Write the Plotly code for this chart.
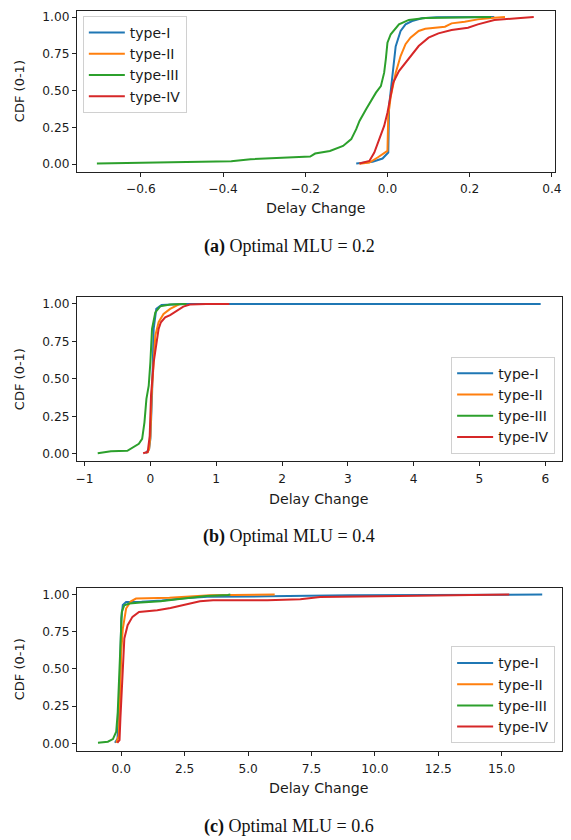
import plotly.graph_objects as go

# ---- CDF curves of delay change, one set per optimal-MLU setting ----
TYPES = ["type-I", "type-II", "type-III", "type-IV"]
COLORS = ["#1f77b4", "#ff7f0e", "#2ca02c", "#d62728"]

# Optimal MLU = 0.2
mlu02_t1_x = [-0.076, -0.036, -0.012, 0.0, 0.002, 0.004, 0.012, 0.02, 0.032, 0.044, 0.06, 0.084, 0.12, 0.26]
mlu02_t1_y = [0.004, 0.016, 0.038, 0.068, 0.079, 0.396, 0.62, 0.80, 0.905, 0.95, 0.973, 0.991, 0.998, 1.0]
mlu02_t2_x = [-0.068, -0.044, -0.024, -0.008, 0.0, 0.002, 0.008, 0.02, 0.032, 0.044, 0.056, 0.076, 0.092,
              0.14, 0.156, 0.188, 0.22, 0.26, 0.286]
mlu02_t2_y = [0.003, 0.011, 0.045, 0.079, 0.09, 0.33, 0.46, 0.62, 0.735, 0.815, 0.86, 0.905, 0.92,
              0.934, 0.957, 0.968, 0.984, 0.995, 1.0]
mlu02_t3_x = [-0.707, -0.60, -0.564, -0.38, -0.333, -0.244, -0.188, -0.176, -0.14, -0.108, -0.088, -0.076,
              -0.068, -0.052, -0.028, -0.016, -0.008, -0.004, 0.0, 0.008, 0.018, 0.028, 0.052, 0.092, 0.252]
mlu02_t3_y = [0.004, 0.009, 0.015, 0.02, 0.034, 0.048, 0.052, 0.072, 0.09, 0.124, 0.17, 0.238,
              0.294, 0.373, 0.486, 0.53, 0.622, 0.713, 0.826, 0.883, 0.92, 0.95, 0.98, 0.993, 1.0]
mlu02_t4_x = [-0.068, -0.044, -0.032, -0.02, -0.008, 0.0, 0.0056, 0.014, 0.028, 0.044, 0.06, 0.076, 0.1,
              0.124, 0.156, 0.196, 0.22, 0.26, 0.316, 0.356]
mlu02_t4_y = [0.004, 0.022, 0.079, 0.17, 0.26, 0.35, 0.44, 0.554, 0.633, 0.69, 0.747, 0.803, 0.86,
              0.889, 0.912, 0.927, 0.95, 0.98, 0.991, 1.0]

# Optimal MLU = 0.4
mlu04_t1_x = [-0.075, -0.02, 0.0, 0.025, 0.05, 0.09, 0.17, 0.5, 5.93]
mlu04_t1_y = [0.004, 0.03, 0.10, 0.389, 0.833, 0.967, 0.993, 1.0, 1.0]
mlu04_t2_x = [-0.05, -0.02, 0.0, 0.02, 0.05, 0.075, 0.125, 0.2, 0.3, 0.4, 0.45]
mlu04_t2_y = [0.004, 0.03, 0.12, 0.40, 0.61, 0.789, 0.878, 0.933, 0.967, 0.99, 1.0]
mlu04_t3_x = [-0.80, -0.60, -0.35, -0.25, -0.175, -0.125, -0.09, -0.06, -0.025, 0.0, 0.025, 0.075, 0.15,
              0.30, 0.55]
mlu04_t3_y = [0.004, 0.017, 0.02, 0.044, 0.067, 0.10, 0.21, 0.367, 0.455, 0.61, 0.833, 0.944, 0.984,
              0.996, 1.0]
mlu04_t4_x = [-0.11, -0.04, -0.01, 0.01, 0.05, 0.09, 0.125, 0.16, 0.225, 0.3, 0.4, 0.5, 0.6, 0.85, 1.2]
mlu04_t4_y = [0.004, 0.013, 0.12, 0.39, 0.61, 0.72, 0.833, 0.878, 0.91, 0.926, 0.955, 0.982, 0.996,
              1.0, 1.0]

# Optimal MLU = 0.6
mlu06_t1_x = [-0.25, -0.15, -0.08, -0.03, 0.0, 0.06, 0.19, 0.8, 1.6, 2.5, 3.4, 5.8, 9.0, 16.6]
mlu06_t1_y = [0.004, 0.03, 0.25, 0.60, 0.84, 0.93, 0.95, 0.952, 0.96, 0.975, 0.985, 0.988, 0.995, 1.0]
mlu06_t2_x = [-0.2, -0.1, -0.05, 0.0, 0.06, 0.19, 0.38, 0.58, 1.9, 3.5, 6.05]
mlu06_t2_y = [0.004, 0.05, 0.30, 0.615, 0.77, 0.906, 0.955, 0.973, 0.978, 0.995, 1.0]
mlu06_t3_x = [-0.92, -0.53, -0.33, -0.2, -0.14, -0.07, -0.035, 0.02, 0.12, 0.32, 0.77, 1.55, 2.45, 3.36,
              4.2, 4.3]
mlu06_t3_y = [0.004, 0.011, 0.029, 0.078, 0.21, 0.50, 0.727, 0.883, 0.928, 0.94, 0.946, 0.955, 0.973,
              0.99, 0.997, 1.0]
mlu06_t4_x = [-0.16, -0.07, -0.035, 0.02, 0.06, 0.12, 0.25, 0.44, 0.70, 1.42, 1.94, 2.45, 3.1, 3.62,
              5.76, 7.06, 7.84, 10.95, 15.3]
mlu06_t4_y = [0.004, 0.022, 0.168, 0.39, 0.548, 0.705, 0.794, 0.85, 0.883, 0.895, 0.91, 0.928, 0.955,
              0.962, 0.962, 0.969, 0.984, 0.99, 1.0]

panels = [
    dict(curves=[(mlu02_t1_x, mlu02_t1_y), (mlu02_t2_x, mlu02_t2_y),
                 (mlu02_t3_x, mlu02_t3_y), (mlu02_t4_x, mlu02_t4_y)],
         caption="<b>(a)</b> Optimal MLU = 0.2"),
    dict(curves=[(mlu04_t1_x, mlu04_t1_y), (mlu04_t2_x, mlu04_t2_y),
                 (mlu04_t3_x, mlu04_t3_y), (mlu04_t4_x, mlu04_t4_y)],
         caption="<b>(b)</b> Optimal MLU = 0.4"),
    dict(curves=[(mlu06_t1_x, mlu06_t1_y), (mlu06_t2_x, mlu06_t2_y),
                 (mlu06_t3_x, mlu06_t3_y), (mlu06_t4_x, mlu06_t4_y)],
         caption="<b>(c)</b> Optimal MLU = 0.6"),
]

# ---- page geometry (pixels) ----
W, H = 571, 840
plot_boxes = [  # left, right, top, bottom
    (77, 562, 10, 171),
    (77, 568.7, 296.7, 461),
    (77, 568.7, 587.7, 751),
]
x_ranges = [[-0.7556, 0.408], [-1.116, 6.25], [-1.75, 17.37]]
y_ranges = [[-0.052, 1.041], [-0.051, 1.044], [-0.052, 1.044]]
x_dticks = [0.2, 1, 2.5]
x_formats = [".1f", "d", ".1f"]
xtitle_y = [207, 498.3, 788.3]
caption_y = [245.5, 536.5, 826.5]

TICK_FONT = dict(family="DejaVu Sans", size=12.2, color="#1a1a1a")
XLABEL_FONT = dict(family="DejaVu Sans", size=14.2, color="#1a1a1a")
YLABEL_FONT = dict(family="DejaVu Sans", size=13, color="#1a1a1a")
CAP_FONT = dict(family="Liberation Serif", size=18, color="#111")

fig = go.Figure()
layout = dict(width=W, height=H, margin=dict(l=0, r=0, t=0, b=0),
              paper_bgcolor="white", plot_bgcolor="white", showlegend=True)
annotations = []

legend_keys = ["legend", "legend2", "legend3"]
legend_pos = [
    dict(x=83 / W, y=1 - 15 / H, xanchor="left", yanchor="top"),
    dict(x=562 / W, y=1 - 453.3 / H, xanchor="right", yanchor="bottom"),
    dict(x=562 / W, y=1 - 743.3 / H, xanchor="right", yanchor="bottom"),
]

for i, panel in enumerate(panels):
    n = "" if i == 0 else str(i + 1)
    xa, ya = "x" + n, "y" + n
    for (xs, ys), name, color in zip(panel["curves"], TYPES, COLORS):
        fig.add_trace(go.Scatter(
            x=xs, y=ys, name=name, mode="lines",
            line=dict(color=color, width=2),
            xaxis=xa, yaxis=ya, legend=legend_keys[i],
        ))
    l, r, t, b = plot_boxes[i]
    axis_common = dict(showline=True, mirror=True, linecolor="#222", linewidth=1,
                       ticks="outside", ticklen=4, tickwidth=1, tickcolor="#222",
                       showgrid=False, zeroline=False, tickfont=TICK_FONT)
    layout["xaxis" + n] = dict(domain=[l / W, r / W], range=x_ranges[i], anchor=ya,
                               tick0=0, dtick=x_dticks[i], tickformat=x_formats[i],
                               ticklabelstandoff=2, **axis_common)
    layout["yaxis" + n] = dict(domain=[1 - b / H, 1 - t / H], range=y_ranges[i], anchor=xa,
                               tick0=0, dtick=0.25, tickformat=".2f", **axis_common)
    layout[legend_keys[i]] = dict(
        **legend_pos[i], bgcolor="rgba(255,255,255,0.8)", bordercolor="#d0d0d0",
        borderwidth=1, font=dict(family="DejaVu Sans", size=14, color="#1a1a1a"),
        itemwidth=36, tracegroupgap=0)
    # axis titles
    annotations.append(dict(text="Delay Change", x=(l + r) / 2 / W, y=1 - xtitle_y[i] / H,
                            xref="paper", yref="paper", showarrow=False,
                            font=XLABEL_FONT, xanchor="center", yanchor="middle"))
    annotations.append(dict(text="CDF (0-1)", x=19 / W, y=1 - (t + b) / 2 / H,
                            xref="paper", yref="paper", showarrow=False, textangle=-90,
                            font=YLABEL_FONT, xanchor="center", yanchor="middle"))
    # sub-figure caption
    annotations.append(dict(text=panel["caption"], x=292.5 / W, y=1 - caption_y[i] / H,
                            xref="paper", yref="paper", showarrow=False,
                            font=CAP_FONT, xanchor="center", yanchor="middle"))

layout["annotations"] = annotations
fig.update_layout(**layout)
fig.write_html("out.html")
